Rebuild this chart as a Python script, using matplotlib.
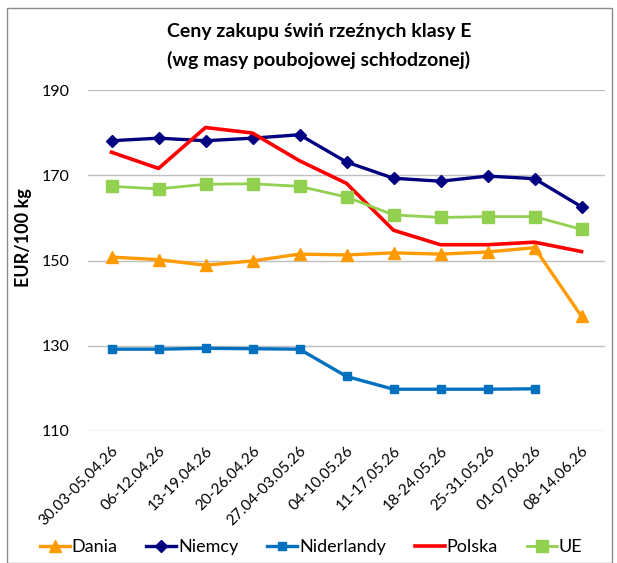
import matplotlib.pyplot as plt
import numpy as np
from matplotlib.patches import Rectangle

plt.rcParams['font.family'] = ['Lato', 'DejaVu Sans']

tygodnie = ['30.03-05.04.26', '06-12.04.26', '13-19.04.26', '20-26.04.26',
            '27.04-03.05.26', '04-10.05.26', '11-17.05.26', '18-24.05.26',
            '25-31.05.26', '01-07.06.26', '08-14.06.26']

dania = [150.8, 150.2, 148.9, 149.9, 151.5, 151.3, 151.8, 151.5, 152.0, 153.0, 136.9]
niemcy = [178.1, 178.7, 178.1, 178.7, 179.5, 173.1, 169.3, 168.6, 169.8, 169.2, 162.6]
niderlandy = [129.2, 129.2, 129.4, 129.3, 129.2, 122.8, 119.8, 119.8, 119.8, 119.9, np.nan]
polska = [175.4, 171.6, 181.2, 179.9, 173.4, 168.1, 157.1, 153.7, 153.7, 154.3, 152.1]
ue = [167.4, 166.8, 167.9, 168.0, 167.4, 164.9, 160.7, 160.1, 160.3, 160.3, 157.3]

fig = plt.figure(figsize=(6.17, 5.63), dpi=100)
ax = fig.add_axes([88 / 617, 1 - 431 / 563, 517 / 617, 341 / 563])

x = np.arange(len(tygodnie))
ax.plot(x, dania, color='#FF9A00', lw=2.4, marker='^', ms=8, label='Dania')
ax.plot(x, niemcy, color='#000080', lw=2.4, marker='D', ms=6, label='Niemcy')
ax.plot(x, niderlandy, color='#0070C0', lw=2.4, marker='s', ms=5.5, label='Niderlandy')
ax.plot(x, polska, color='#FF0000', lw=2.6, label='Polska')
ax.plot(x, ue, color='#92D050', lw=2.0, marker='s', ms=8, label='UE')

ax.set_xlim(-0.5, len(tygodnie) - 0.5)
ax.set_ylim(110, 190)
ax.set_yticks([110, 130, 150, 170, 190])
ax.yaxis.grid(True, color='#BFBFBF', lw=1)
ax.set_axisbelow(True)
for s in ax.spines.values():
    s.set_visible(False)
ax.tick_params(length=0, labelsize=11.5)
ax.tick_params(axis='y', pad=13)
ax.tick_params(axis='x', pad=9)
ax.set_xticks(x)
ax.set_xticklabels(tygodnie, rotation=45, ha='right', rotation_mode='anchor', fontsize=11)
ax.set_ylabel('EUR/100 kg', fontsize=13, fontweight='bold')
ax.yaxis.set_label_coords(-0.108, 0.566)

fig.text(319 / 617, 1 - 32 / 563, 'Ceny zakupu świń rzeźnych klasy E',
         ha='center', va='center', fontsize=14, fontweight='bold')
fig.text(319 / 617, 1 - 60 / 563, '(wg masy poubojowej schłodzonej)',
         ha='center', va='center', fontsize=14, fontweight='bold')

fig.legend(loc='center', bbox_to_anchor=(311 / 617, 1 - 547 / 563), ncol=5, frameon=False,
           fontsize=13, handlelength=1.66, handletextpad=0.1, columnspacing=1.6)

fig.add_artist(Rectangle((7 / 617, 0), 605 / 617, 1 - 8 / 563, transform=fig.transFigure,
                         fill=False, edgecolor='#8C8C8C', lw=1))

fig.savefig('out.png', dpi=100)
